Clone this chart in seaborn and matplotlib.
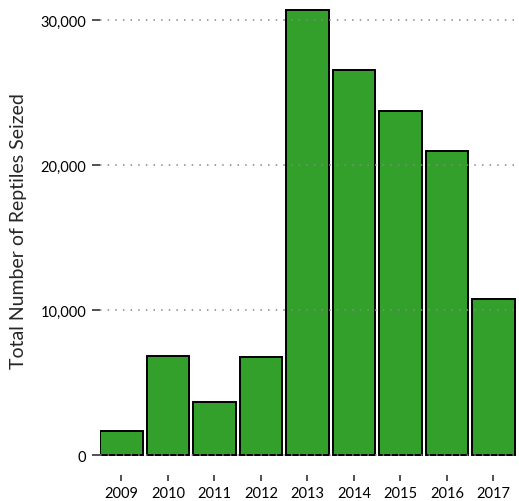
import numpy as np
import pandas as pd
import matplotlib
matplotlib.use("Agg")
import matplotlib.pyplot as plt
import seaborn as sns
from matplotlib.ticker import FuncFormatter

# values
years = ["2009", "2010", "2011", "2012", "2013", "2014", "2015", "2016", "2017"]
seized = [1660, 6850, 3700, 6780, 30700, 26570, 23720, 20960, 10780]
y_ticks = [0, 10000, 20000, 30000]

df = pd.DataFrame({"Year": years, "Seized": seized})

sns.set_style("white")
plt.rcParams["font.family"] = ["Lato", "DejaVu Sans"]

fig = plt.figure(figsize=(5.19, 5.02), dpi=100)
ax = fig.add_axes([100 / 519, 1 - 476 / 502, 419 / 519, 476 / 502])

sns.barplot(data=df, x="Year", y="Seized", color="#33a02c", saturation=1,
            edgecolor="black", linewidth=1.4, width=0.92, ax=ax)

ax.set_xlim(-0.46, 8.55)
ax.set_ylim(-1360, 31470)
ax.set_yticks(y_ticks)
ax.yaxis.set_major_formatter(FuncFormatter(lambda v, p: f"{int(v):,}"))

# dotted grid drawn over the bars
ax.set_axisbelow(False)
ax.yaxis.grid(True, linestyle=(0, (1, 4)), color="#888888", linewidth=1.1)
ax.xaxis.grid(False)
for s in ax.spines.values():
    s.set_visible(False)

ax.tick_params(axis="y", length=6, width=1.2, color="#333333", pad=4,
               labelsize=10.5, labelcolor="black", left=True)
ax.tick_params(axis="x", length=4, width=1.2, color="#333333", pad=4,
               labelsize=10.5, labelcolor="black", bottom=True)

ax.set_xlabel("")
ax.set_ylabel("Total Number of Reptiles Seized", fontsize=14)
ax.yaxis.set_label_coords(-0.174, 0.514)

fig.savefig("out.png", dpi=100)
